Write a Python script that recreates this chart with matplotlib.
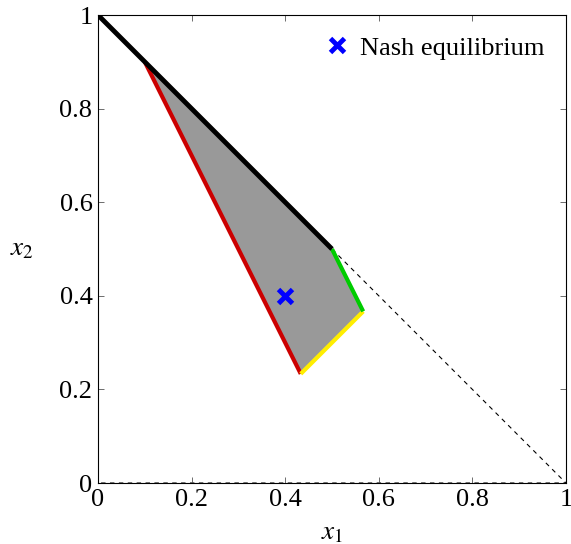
import matplotlib
matplotlib.use("Agg")
import matplotlib.pyplot as plt

plt.rcParams['font.family'] = ['Liberation Serif', 'DejaVu Serif']
plt.rcParams['mathtext.fontset'] = 'stix'

# vertices
black_x = [0.0, 0.1, 0.5]
black_y = [1.0, 0.9, 0.5]
red_x = [0.1, 0.4333]
red_y = [0.9, 0.2333]
yellow_x = [0.4333, 0.5667]
yellow_y = [0.2333, 0.3667]
green_x = [0.5667, 0.5]
green_y = [0.3667, 0.5]
region_x = [0.1, 0.5, 0.5667, 0.4333]
region_y = [0.9, 0.5, 0.3667, 0.2333]
simplex_x = [0.0, 0.0, 1.0, 0.0]
simplex_y = [1.0, 0.0, 0.0, 1.0]
nash_x = [0.4]
nash_y = [0.4]
ticks = [0, 0.2, 0.4, 0.6, 0.8, 1]
tick_labels = ['0', '0.2', '0.4', '0.6', '0.8', '1']

fig = plt.figure(figsize=(5.71, 5.44), dpi=100)
ax = fig.add_axes([0.1716, 0.1121, 0.9912 - 0.1716, 0.9724 - 0.1121])

ax.plot(simplex_x, simplex_y, color='black', lw=0.8, ls=(0, (4, 4)), zorder=1)
ax.fill(region_x, region_y, color='#999999', lw=0, zorder=2)
ax.plot(red_x, red_y, color='#cc0000', lw=3, solid_capstyle='butt', zorder=3)
ax.plot(yellow_x, yellow_y, color='#ffee00', lw=3, solid_capstyle='butt', zorder=3)
ax.plot(green_x, green_y, color='#00cc00', lw=3, solid_capstyle='butt', zorder=3)
ax.plot(black_x, black_y, color='black', lw=3.5, solid_capstyle='butt', zorder=4)
ax.plot(nash_x, nash_y, ls='none', marker='x', color='blue', ms=10, mew=3.5,
        label='Nash equilibrium', zorder=5)

ax.set_xlim(0, 1)
ax.set_ylim(0, 1)
ax.set_xticks(ticks)
ax.set_xticklabels(tick_labels)
ax.set_yticks(ticks)
ax.set_yticklabels(tick_labels)
ax.tick_params(direction='in', top=True, right=True, labelsize=19, length=4, width=0.6,
               color='#555555', pad=4)
for s in ax.spines.values():
    s.set_linewidth(0.8)
ax.set_xlabel('$x_1$', fontsize=19.5, labelpad=7)
ax.set_ylabel('$x_2$', fontsize=19.5, rotation=0, labelpad=27, va='center')

ax.legend(loc='upper right', frameon=False, fontsize=19, handlelength=0.8,
          handletextpad=0.5, borderaxespad=0.4)

fig.savefig('out.png', dpi=100)
